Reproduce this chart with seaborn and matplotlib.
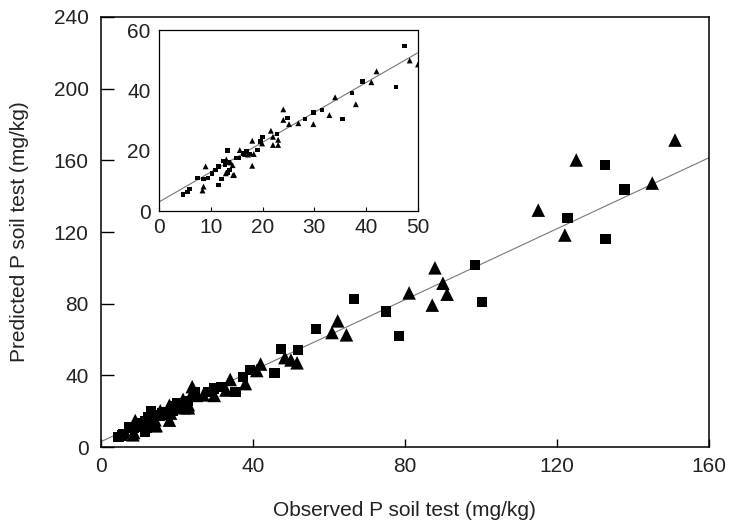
import numpy as np
import pandas as pd
import matplotlib
matplotlib.use("Agg")
import matplotlib.pyplot as plt
import seaborn as sns

# ---- data ----
sq_obs = [4.6, 5.5, 5.9, 7.4, 8.6, 9.5, 10.2, 10.9, 11.5, 11.5, 12.1, 12.4, 13.2, 12.7, 12.9,
          13.4, 13.6, 13.3, 14.9, 15.5, 16.2, 16.9, 17.6, 19.0, 19.6, 20.0, 22.8, 24.8, 28.2,
          29.8, 31.5, 35.4, 37.3, 39.3, 45.7, 47.4,
          51.8, 56.6, 66.6, 75.1, 78.5, 98.5, 100.2, 122.8, 132.6, 132.8, 137.8]
sq_pred = [5.5, 6.4, 7.3, 10.9, 10.6, 11.0, 12.5, 13.6, 14.7, 8.7, 10.6, 16.6, 20.0, 15.2, 16.1,
           16.2, 13.6, 12.8, 17.6, 17.6, 19.1, 19.7, 18.9, 20.2, 23.0, 24.5, 25.5, 30.9, 30.6,
           32.6, 33.5, 30.6, 39.1, 42.9, 41.2, 54.8,
           54.0, 66.0, 82.7, 75.6, 62.0, 101.7, 81.0, 127.9, 157.2, 116.0, 143.7]

tri_obs = [8.4, 8.6, 9.0, 13.0, 13.8, 14.2, 14.5, 12.9, 14.3, 15.6, 16.6, 17.2, 18.0, 18.0, 18.3,
           19.9, 21.6, 22.0, 22.0, 23.0, 23.0, 24.0, 24.0, 25.1, 26.9, 29.8, 32.9, 34.0, 38.0,
           41.0, 42.0, 48.4, 50.0,
           51.6, 60.8, 62.3, 64.6, 81.1, 87.2, 87.9, 90.0, 91.1, 115.1, 122.1, 125.1, 145.1, 151.1]
tri_pred = [6.8, 8.1, 14.8, 17.1, 16.1, 15.2, 12.0, 12.5, 11.9, 20.2, 18.9, 18.7, 23.3, 15.0, 18.9,
            22.4, 26.6, 24.6, 21.9, 23.6, 21.9, 33.7, 30.2, 28.8, 29.1, 28.8, 31.8, 37.7, 35.4,
            42.7, 46.3, 49.9, 48.6,
            47.0, 63.9, 70.4, 62.6, 86.0, 79.2, 100.0, 91.4, 85.3, 132.2, 118.3, 160.2, 147.3, 171.3]

line_intercept = 3.0
line_slope = 0.99

main_xticks = [0, 40, 80, 120, 160]
main_yticks = [0, 40, 80, 120, 160, 200, 240]
inset_xticks = [0, 10, 20, 30, 40, 50]
inset_yticks = [0, 20, 40, 60]

x_label = "Observed P soil test (mg/kg)"
y_label = "Predicted P soil test (mg/kg)"

# ---- build frames ----
sq = pd.DataFrame({"obs": sq_obs, "pred": sq_pred})
tri = pd.DataFrame({"obs": tri_obs, "pred": tri_pred})

sns.set_theme(style="ticks")
plt.rcParams["font.family"] = ["Liberation Sans", "DejaVu Sans"]
plt.rcParams["xtick.direction"] = "in"
plt.rcParams["ytick.direction"] = "in"

fig = plt.figure(figsize=(7.30, 5.24), dpi=100)
ax = fig.add_axes([0.1384, 0.1469, 0.8326, 0.8207])

def draw(axis, xmax, s_sq, s_tri):
    lx = np.array([0, xmax])
    ly = line_intercept + line_slope * lx
    sns.lineplot(x=lx, y=ly, ax=axis, color="#777777", linewidth=0.8, zorder=1)
    sns.scatterplot(data=sq, x="obs", y="pred", ax=axis, marker="s", s=s_sq,
                    color="black", edgecolor="none", linewidth=0, zorder=3)
    sns.scatterplot(data=tri, x="obs", y="pred", ax=axis, marker="^", s=s_tri,
                    color="black", edgecolor="none", linewidth=0, zorder=3)

draw(ax, 160, 55, 95)
ax.set_xlim(0, 160)
ax.set_ylim(0, 240)
ax.set_xticks(main_xticks)
ax.set_yticks(main_yticks)
ax.tick_params(axis="x", which="major", direction="in", length=6, width=1, color="black",
               labelsize=15, pad=7, labelcolor="#222222", bottom=True, top=False)
ax.tick_params(axis="y", which="major", direction="in", length=9.5, width=1, color="black",
               labelsize=15, pad=9, labelcolor="#222222", left=True, right=False)
for sp in ax.spines.values():
    sp.set_visible(True)
    sp.set_color("black")
    sp.set_linewidth(1.1)
ax.set_xlabel(x_label, fontsize=15, labelpad=18, color="#222222")
ax.set_ylabel(y_label, fontsize=15, labelpad=18, color="#222222")

# ---- inset ----
axi = fig.add_axes([0.2178, 0.5973, 0.3548, 0.3454])
draw(axi, 50, 10, 18)
axi.set_xlim(0, 50)
axi.set_ylim(0, 60)
axi.set_xticks(inset_xticks)
axi.set_yticks(inset_yticks)
axi.tick_params(axis="x", which="major", direction="in", length=3, width=0.8, color="black",
                labelsize=15, pad=5, labelcolor="#222222", bottom=True, top=False)
axi.tick_params(axis="y", which="major", direction="in", length=0, width=0.8, color="black",
                labelsize=15, pad=6, labelcolor="#222222", left=True, right=False)
for sp in axi.spines.values():
    sp.set_visible(True)
    sp.set_color("black")
    sp.set_linewidth(0.9)
axi.set_xlabel("")
axi.set_ylabel("")

fig.savefig("out.png", dpi=100)
